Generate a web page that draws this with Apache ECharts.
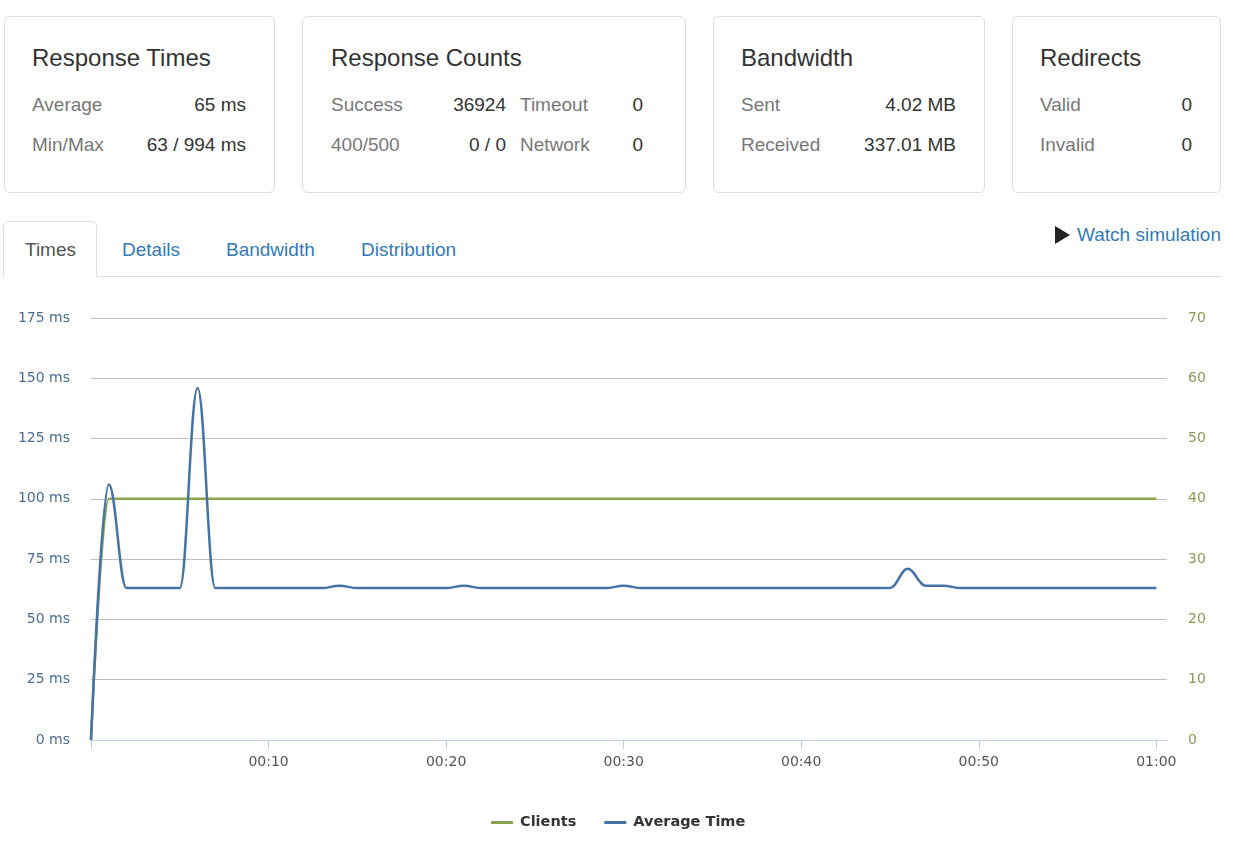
<!DOCTYPE html>
<html>
<head>
<meta charset="utf-8">
<script src="https://cdn.jsdelivr.net/npm/echarts@6/dist/echarts.min.js"></script>
<style>
  html, body { margin: 0; padding: 0; background: #fff; }
  body { width: 1258px; height: 853px; position: relative; overflow: hidden;
         font-family: "Liberation Sans", Arial, Helvetica, sans-serif; color: #333; }
  .card { position: absolute; top: 16px; height: 177px; box-sizing: border-box;
          border: 1px solid #dcdcdc; border-radius: 6px; background: #fff; }
  .t { position: absolute; white-space: nowrap; line-height: 1; }
  .title { font-size: 24px; color: #333; }
  .lbl { font-size: 19px; color: #777; }
  .val { font-size: 19px; color: #333; text-align: right; }
  .tab { font-size: 19px; color: #337ab7; }
  #tabline { position: absolute; left: 4px; width: 1217px; top: 276px; height: 1px; background: #dddddd; }
  #activeTab { position: absolute; left: 3px; top: 221px; width: 94px; height: 56px; box-sizing: border-box;
               border: 1px solid #dddddd; border-bottom: 1px solid #fff; border-radius: 5px 5px 0 0; background: #fff; }
  #tri { position: absolute; left: 1055px; top: 226px; width: 0; height: 0;
         border-top: 9px solid transparent; border-bottom: 9px solid transparent; border-left: 15px solid #222; }
  #chart { position: absolute; left: 0; top: 280px; width: 1258px; height: 573px; }
</style>
</head>
<body>
<div class="card" style="left:4px;width:271px;"></div>
<div class="card" style="left:302px;width:384px;"></div>
<div class="card" style="left:713px;width:272px;"></div>
<div class="card" style="left:1012px;width:209px;"></div>

<div class="t title" style="left:32px;top:46px;">Response Times</div>
<div class="t lbl" style="left:32px;top:95px;">Average</div>
<div class="t val" style="right:1012px;top:95px;">65 ms</div>
<div class="t lbl" style="left:32px;top:135px;">Min/Max</div>
<div class="t val" style="right:1012px;top:135px;">63 / 994 ms</div>

<div class="t title" style="left:331px;top:46px;">Response Counts</div>
<div class="t lbl" style="left:331px;top:95px;">Success</div>
<div class="t val" style="right:752px;top:95px;">36924</div>
<div class="t lbl" style="left:520px;top:95px;">Timeout</div>
<div class="t val" style="right:615px;top:95px;">0</div>
<div class="t lbl" style="left:331px;top:135px;">400/500</div>
<div class="t val" style="right:752px;top:135px;">0 / 0</div>
<div class="t lbl" style="left:520px;top:135px;">Network</div>
<div class="t val" style="right:615px;top:135px;">0</div>

<div class="t title" style="left:741px;top:46px;">Bandwidth</div>
<div class="t lbl" style="left:741px;top:95px;">Sent</div>
<div class="t val" style="right:302px;top:95px;">4.02 MB</div>
<div class="t lbl" style="left:741px;top:135px;">Received</div>
<div class="t val" style="right:302px;top:135px;">337.01 MB</div>

<div class="t title" style="left:1040px;top:46px;">Redirects</div>
<div class="t lbl" style="left:1040px;top:95px;">Valid</div>
<div class="t val" style="right:66px;top:95px;">0</div>
<div class="t lbl" style="left:1040px;top:135px;">Invalid</div>
<div class="t val" style="right:66px;top:135px;">0</div>

<div id="tabline"></div>
<div id="activeTab"></div>
<div class="t tab" style="left:25px;top:240px;color:#555;">Times</div>
<div class="t tab" style="left:122px;top:240px;">Details</div>
<div class="t tab" style="left:226px;top:240px;">Bandwidth</div>
<div class="t tab" style="left:361px;top:240px;">Distribution</div>
<div id="tri"></div>
<div class="t tab" style="left:1077px;top:225px;">Watch simulation</div>

<div id="chart"></div>

<script>
// elapsed seconds
var times = [0,1,2,3,4,5,6,7,8,9,10,11,12,13,14,15,16,17,18,19,20,21,22,23,24,25,26,27,28,29,30,
             31,32,33,34,35,36,37,38,39,40,41,42,43,44,45,46,47,48,49,50,51,52,53,54,55,56,57,58,59,60];
// active clients
var clients = [0,40,40,40,40,40,40,40,40,40,40,40,40,40,40,40,40,40,40,40,40,40,40,40,40,40,40,40,40,40,40,
               40,40,40,40,40,40,40,40,40,40,40,40,40,40,40,40,40,40,40,40,40,40,40,40,40,40,40,40,40,40];
// average response time (ms)
var avgTime = [0,106,63,63,63,63,146,63,63,63,63,63,63,63,64,63,63,63,63,63,63,64,63,63,63,63,63,63,63,63,64,
               63,63,63,63,63,63,63,63,63,63,63,63,63,63,63,71,64,64,63,63,63,63,63,63,63,63,63,63,63,63];
// tick positions (seconds)
var xTicks = [0,10,20,30,40,50,60];
var xLabels = [10,20,30,40,50,60];
var seriesNames = ['Clients', 'Average Time'];

function pairs(xs, ys) { return xs.map(function (x, i) { return [x, ys[i]]; }); }
function mmss(v) {
  var m = Math.floor(v / 60), s = Math.round(v % 60);
  return (m < 10 ? '0' : '') + m + ':' + (s < 10 ? '0' : '') + s;
}

var chart = echarts.init(document.getElementById('chart'), null, { renderer: 'canvas' });
var FONT = '"DejaVu Sans", Verdana, sans-serif';
chart.setOption({
  animation: false,
  grid: { left: 91, right: 91, top: 38, bottom: 113, containLabel: false },
  legend: {
    left: 491, top: 535, padding: 0,
    icon: 'rect', itemWidth: 22, itemHeight: 3, itemGap: 28,
    textStyle: { fontFamily: FONT, fontWeight: 'bold', fontSize: 14.5, color: '#333', padding: [0, 0, 0, 2] },
    data: seriesNames
  },
  xAxis: {
    type: 'value', min: 0, max: 60.6, interval: 10,
    axisLine: { show: true, lineStyle: { color: '#C0D0E0', width: 1 } },
    axisTick: { show: true, length: 9, lineStyle: { color: '#C0D0E0' }, customValues: xTicks },
    axisLabel: { customValues: xLabels, formatter: mmss, margin: 15,
                 fontFamily: FONT, fontSize: 14, color: '#555' },
    splitLine: { show: false }
  },
  yAxis: [
    {
      type: 'value', min: 0, max: 175, interval: 25, position: 'left',
      axisLine: { show: false }, axisTick: { show: false },
      axisLabel: { formatter: '{value} ms', margin: 21, padding: [4, 0, 0, 0],
                   fontFamily: FONT, fontSize: 14, color: '#4a6d94' },
      splitLine: { show: true, lineStyle: { color: '#C0C0C0', width: 1 } }
    },
    {
      type: 'value', min: 0, max: 70, interval: 10, position: 'right',
      axisLine: { show: false }, axisTick: { show: false },
      axisLabel: { margin: 21, padding: [4, 0, 0, 0],
                   fontFamily: FONT, fontSize: 14, color: '#8a9a55' },
      splitLine: { show: false }
    }
  ],
  series: [
    {
      name: seriesNames[0], type: 'line', yAxisIndex: 1,
      smooth: 0.4, smoothMonotone: 'x',
      showSymbol: false, symbol: 'none',
      itemStyle: { color: '#89A54E' },
      lineStyle: { color: '#89A54E', width: 2.5 },
      data: pairs(times, clients)
    },
    {
      name: seriesNames[1], type: 'line', yAxisIndex: 0,
      smooth: 0.4, smoothMonotone: 'x',
      showSymbol: false, symbol: 'none',
      itemStyle: { color: '#4572A7' },
      lineStyle: { color: '#4572A7', width: 2.5 },
      data: pairs(times, avgTime)
    }
  ]
});
</script>
</body>
</html>
